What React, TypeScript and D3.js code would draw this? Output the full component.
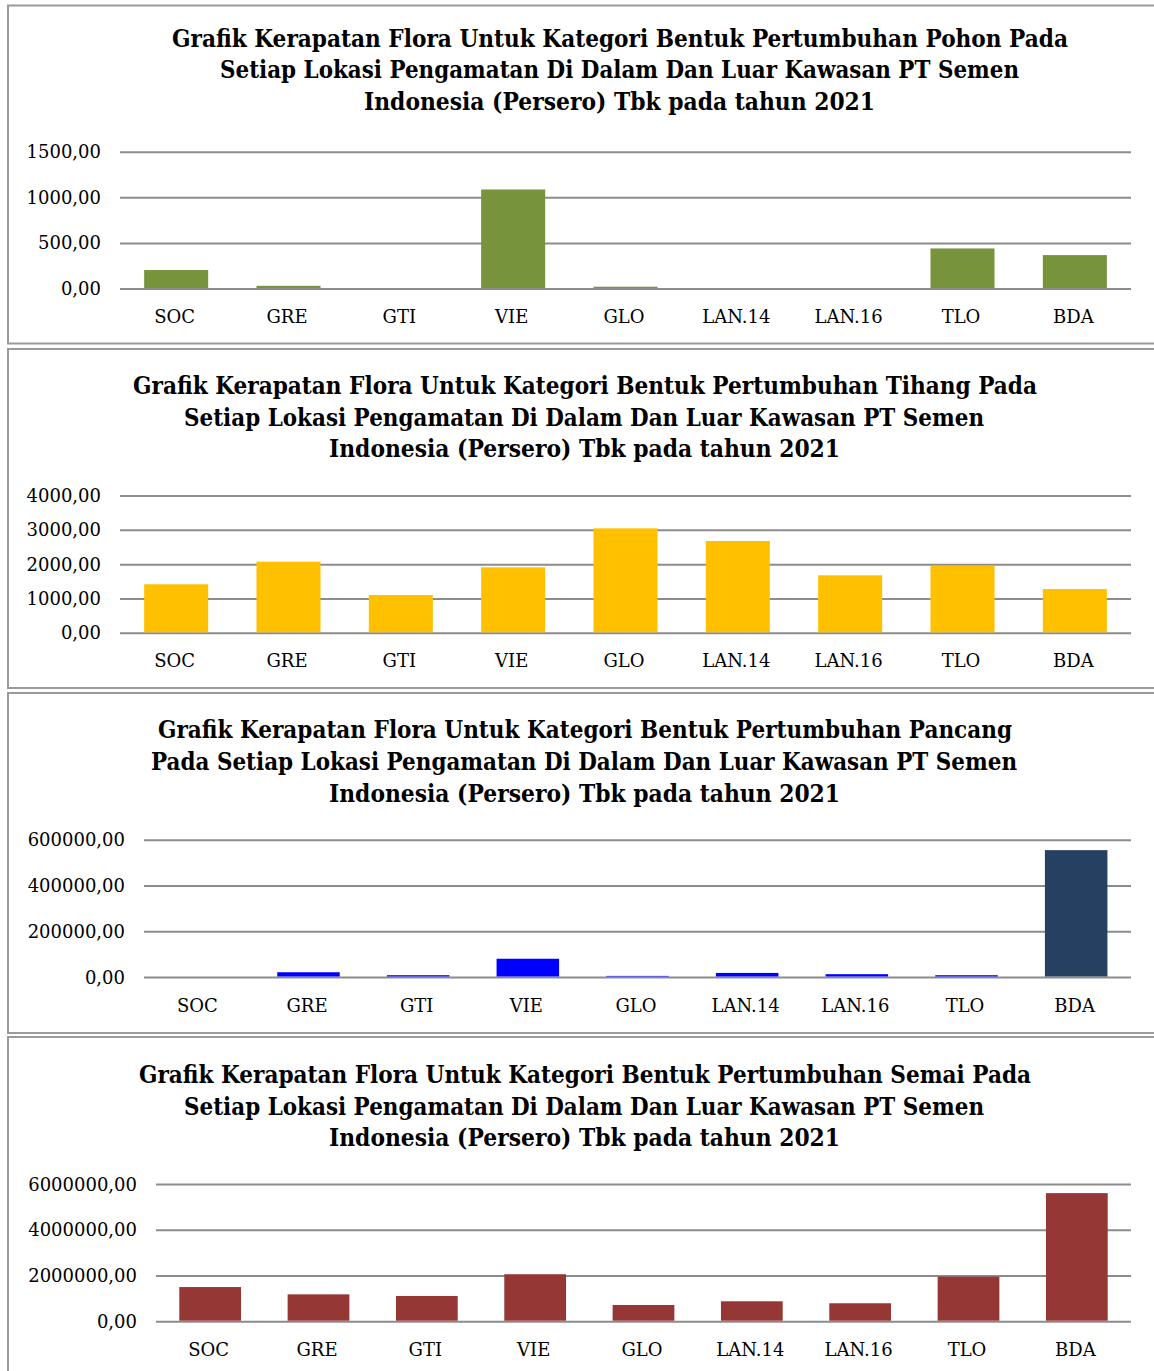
import React from 'react';
import * as d3 from 'd3';

const categories = ['SOC', 'GRE', 'GTI', 'VIE', 'GLO', 'LAN.14', 'LAN.16', 'TLO', 'BDA'];

const pohon = [208, 35, 0, 1092, 25, 0, 0, 445, 372];
const tihang = [1428, 2087, 1116, 1922, 3058, 2689, 1689, 1969, 1290];
const pancang = [500, 23000, 10000, 82000, 7000, 20000, 14500, 10000, 557000];
const semai = [1515000, 1196000, 1125000, 2076000, 731000, 893000, 806000, 1971000, 5623000];

const pohonTicks = [0, 500, 1000, 1500];
const tihangTicks = [0, 1000, 2000, 3000, 4000];
const pancangTicks = [0, 200000, 400000, 600000];
const semaiTicks = [0, 2000000, 4000000, 6000000];

const titleEnd = 'Indonesia (Persero) Tbk pada tahun 2021';
const pohonTitle = ['Grafik Kerapatan Flora Untuk Kategori Bentuk Pertumbuhan Pohon Pada', 'Setiap Lokasi Pengamatan Di Dalam Dan Luar Kawasan PT Semen', titleEnd];
const tihangTitle = ['Grafik Kerapatan Flora Untuk Kategori Bentuk Pertumbuhan Tihang Pada', 'Setiap Lokasi Pengamatan Di Dalam Dan Luar Kawasan PT Semen', titleEnd];
const pancangTitle = ['Grafik Kerapatan Flora Untuk Kategori Bentuk Pertumbuhan Pancang', 'Pada Setiap Lokasi Pengamatan Di Dalam Dan Luar Kawasan PT Semen', titleEnd];
const semaiTitle = ['Grafik Kerapatan Flora Untuk Kategori Bentuk Pertumbuhan Semai Pada', 'Setiap Lokasi Pengamatan Di Dalam Dan Luar Kawasan PT Semen', titleEnd];

const idFormat = d3.formatLocale({ decimal: ',', thousands: '', grouping: [3], currency: ['', ''] }).format('.2f');

const FONT = "'DejaVu Serif', serif";
const W = 1154;
const H = 1371;
const plotRight = 1131;

// layout of each panel
const panels = [
  {
    values: pohon, ticks: pohonTicks, title: pohonTitle, color: () => '#77933C',
    box: [5.5, 343.5], left: 120, y0: 289, y1: 152.3, max: 1500,
    titleX: [[172, 1068], [220, 1019], [364, 875]], titleY: [46.7, 78.3, 110],
  },
  {
    values: tihang, ticks: tihangTicks, title: tihangTitle, color: () => '#FFC000',
    box: [349, 688], left: 120, y0: 633.3, y1: 496, max: 4000,
    titleX: [[133, 1037], [184, 984], [329, 840]], titleY: [394.3, 426, 457.3],
  },
  {
    values: pancang, ticks: pancangTicks, title: pancangTitle,
    color: (c: string) => (c === 'BDA' ? '#254061' : '#0000FF'),
    box: [693, 1033], left: 144, y0: 977.5, y1: 840.3, max: 600000,
    titleX: [[158, 1012], [151, 1017], [329, 840]], titleY: [738.3, 770, 801.7],
  },
  {
    values: semai, ticks: semaiTicks, title: semaiTitle, color: () => '#953735',
    box: [1037, 1400], left: 156, y0: 1321.7, y1: 1184.5, max: 6000000,
    titleX: [[139, 1031], [184, 984], [329, 840]], titleY: [1083.3, 1114.5, 1145.7],
  },
];

const Panel = ({ p }: { p: any }) => {
  const x = d3.scaleBand<string>().domain(categories).range([p.left, plotRight]).paddingInner(0.43).paddingOuter(0.215);
  const y = d3.scaleLinear().domain([0, p.max]).range([p.y0, p.y1]);
  return (
    <g>
      <rect x={8} y={p.box[0]} width={W + 20} height={p.box[1] - p.box[0]} fill="#fff" stroke="#9a9a9a" strokeWidth={2} />
      {p.title.map((t: string, i: number) => (
        <text
          key={i}
          x={p.titleX[i][0]}
          y={p.titleY[i]}
          textLength={p.titleX[i][1] - p.titleX[i][0]}
          lengthAdjust="spacingAndGlyphs"
          fontFamily={FONT}
          fontWeight="bold"
          fontSize={24}
          fill="#000"
        >
          {t}
        </text>
      ))}
      {p.ticks.map((t: number) => (
        <g key={t}>
          <line x1={p.left} x2={plotRight} y1={y(t)} y2={y(t)} stroke="#8c8c8c" strokeWidth={2} />
          <text x={p.left - 19} y={y(t) + 6} textAnchor="end" fontFamily={FONT} fontSize={18} fill="#000">
            {idFormat(t)}
          </text>
        </g>
      ))}
      {categories.map((c, i) => (
        <rect
          key={c}
          x={x(c)}
          y={y(p.values[i])}
          width={x.bandwidth()}
          height={p.y0 - 1 - y(p.values[i]) > 0 ? p.y0 - 1 - y(p.values[i]) : 0}
          fill={p.color(c)}
        />
      ))}
      {categories.map((c) => (
        <text key={c} x={(x(c) as number) + x.bandwidth() / 2 - 1.5} y={p.y0 + 34} textAnchor="middle" fontFamily={FONT} fontSize={18} fill="#000">
          {c}
        </text>
      ))}
    </g>
  );
};

const App = () => (
  <svg width={W} height={H} style={{ position: 'absolute', left: 0, top: 0, background: '#fff' }}>
    <rect width={W} height={H} fill="#fff" />
    {panels.map((p, i) => (
      <Panel key={i} p={p} />
    ))}
  </svg>
);

export default App;
